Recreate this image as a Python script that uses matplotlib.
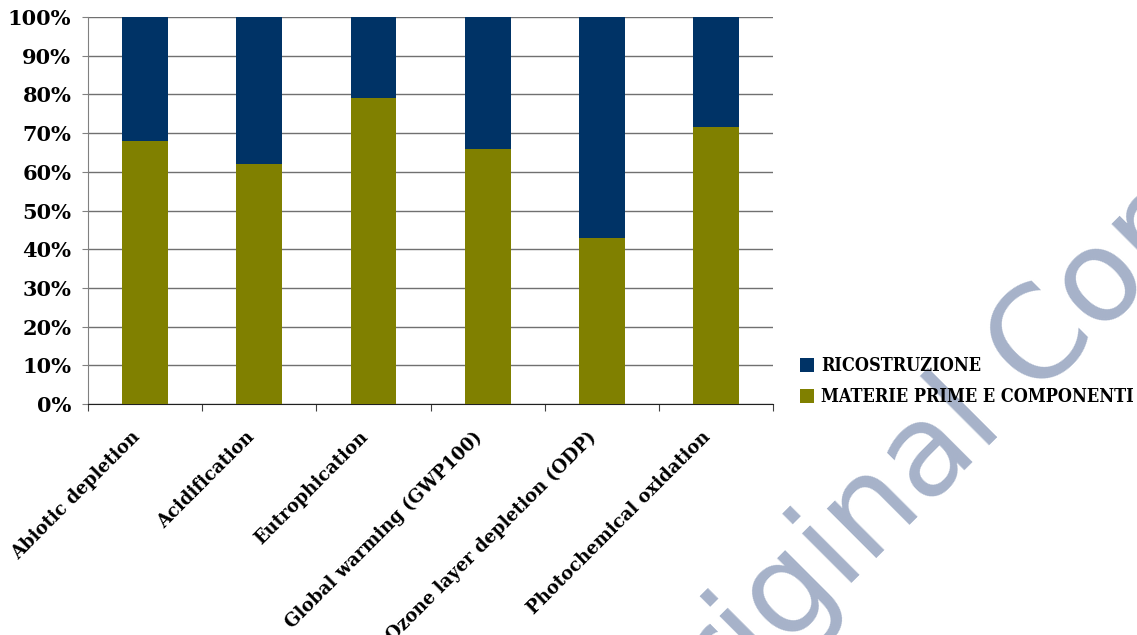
import numpy as np
import matplotlib.pyplot as plt
from matplotlib.ticker import FixedLocator, PercentFormatter
from matplotlib.transforms import ScaledTranslation

# quota percentuale per categoria di impatto
categorie = ["Abiotic depletion", "Acidification", "Eutrophication",
             "Global warming (GWP100)", "Ozone layer depletion (ODP)",
             "Photochemical oxidation"]
materie_prime = [68, 62, 79, 66, 43, 71.5]
ricostruzione = [100 - v for v in materie_prime]

col_materie = "#808000"
col_ricostr = "#003366"
serif_bold = dict(family="DejaVu Serif", weight="bold")

fig = plt.figure(figsize=(11.37, 6.35), dpi=100)
ax = fig.add_axes([0.0774, 0.3638, 0.6026, 0.6094])
ax.set_facecolor("none")

x = np.arange(len(categorie))
ax.bar(x, materie_prime, width=0.4, color=col_materie,
       label="MATERIE PRIME E COMPONENTI", zorder=3)
ax.bar(x, ricostruzione, width=0.4, bottom=materie_prime, color=col_ricostr,
       label="RICOSTRUZIONE", zorder=3)

ax.set_xlim(-0.5, len(categorie) - 0.5)
ax.set_ylim(0, 100)
ax.set_yticks(np.arange(0, 101, 10))
ax.yaxis.set_major_formatter(PercentFormatter(decimals=0))
ax.grid(axis="y", color="#707070", linewidth=1.0, zorder=0)

# tacche ai confini delle categorie, etichette al centro
ax.xaxis.set_major_locator(FixedLocator(np.arange(-0.5, len(categorie), 1.0)))
ax.xaxis.set_minor_locator(FixedLocator(x))
ax.set_xticklabels([""] * (len(categorie) + 1))
ax.set_xticklabels(categorie, minor=True, rotation=45, ha="right", va="center",
                   rotation_mode="anchor", fontsize=13, **serif_bold)
ax.tick_params(axis="x", which="major", length=5, color="#404040")
ax.tick_params(axis="x", which="minor", length=0, pad=22)
ax.tick_params(axis="y", length=4, color="#808080", pad=8)
sposta = ScaledTranslation(-8 / 100, 0, fig.dpi_scale_trans)
for t in ax.get_xticklabels(minor=True):
    t.set_transform(t.get_transform() + sposta)
for t in ax.get_yticklabels():
    t.set_fontsize(15)
    t.set_fontfamily("DejaVu Serif")
    t.set_fontweight("bold")

for s in ("top", "right"):
    ax.spines[s].set_visible(False)
ax.spines["left"].set_color("#808080")
ax.spines["bottom"].set_color("#202020")

h, l = ax.get_legend_handles_labels()
ax.legend(h[::-1], l[::-1], loc="center left", bbox_to_anchor=(1.039, 0.057),
          frameon=False, handlelength=0.78, handleheight=0.78, handletextpad=0.39,
          labelspacing=0.72, borderaxespad=0, borderpad=0,
          prop=dict(family="DejaVu Serif", weight="bold", size=13, stretch="condensed"))

# filigrana
fig.text(0.574, -0.232, "Original Copy", rotation=45, rotation_mode="anchor",
         ha="left", va="baseline", fontsize=92, family="DejaVu Sans",
         color="#a6b2c9", zorder=-1)

fig.savefig("out.png", dpi=100)
